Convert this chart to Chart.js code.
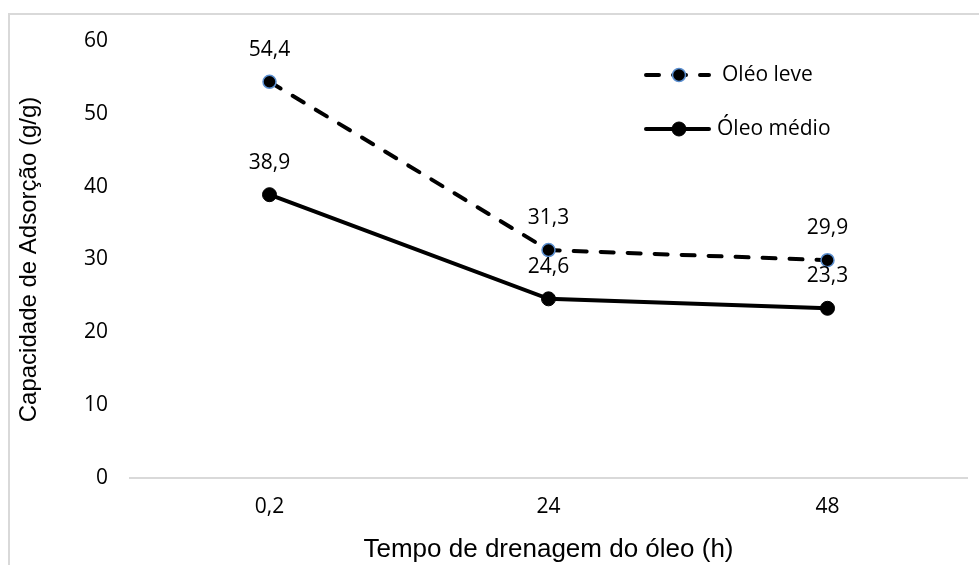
<!DOCTYPE html>
<html>
<head>
<meta charset="utf-8">
<script src="https://cdn.jsdelivr.net/npm/chart.js@4"></script>
<style>
  body { margin: 0; background: #fff; }
  #wrap { position: relative; width: 979px; height: 565px; overflow: hidden; }
  #frame { position: absolute; left: 8px; top: 13px; width: 1000px; height: 600px;
           border-left: 2px solid #d9d9d9; border-top: 2px solid #d9d9d9; }
  canvas { position: absolute; left: 0; top: 0; }
</style>
</head>
<body>
<div id="wrap">
  <div id="frame"></div>
  <canvas id="adsChart" width="979" height="565"></canvas>
</div>
<script>
const categories = ['0,2', '24', '48'];
const oleoLeve = [54.4, 31.3, 29.9];
const oleoMedio = [38.9, 24.6, 23.3];
const seriesNames = ['Oléo leve', 'Óleo médio'];
const yTitle = 'Capacidade de Adsorção (g/g)';
const xTitle = 'Tempo de drenagem do óleo (h)';

const fmt = v => String(v).replace('.', ',');

// value labels above each point
const valueLabels = {
  id: 'valueLabels',
  afterDatasetsDraw(chart) {
    const ctx = chart.ctx;
    ctx.save();
    ctx.font = '21px "Open Sans"';
    ctx.fillStyle = '#000';
    ctx.textAlign = 'center';
    ctx.textBaseline = 'middle';
    chart.data.datasets.forEach((ds, i) => {
      chart.getDatasetMeta(i).data.forEach((pt, j) => {
        ctx.fillText(fmt(ds.data[j]), pt.x, pt.y - 32);
      });
    });
    ctx.restore();
  }
};

// legend drawn inside the plot, top right
const innerLegend = {
  id: 'innerLegend',
  afterDraw(chart) {
    const ctx = chart.ctx;
    const rows = [75, 129];
    const textX = [722, 717];
    chart.data.datasets.forEach((ds, i) => {
      const y = rows[i];
      ctx.save();
      ctx.strokeStyle = ds.borderColor;
      ctx.lineWidth = ds.borderWidth;
      ctx.lineCap = ds.borderCapStyle || 'butt';
      ctx.setLineDash(ds.borderDash || []);
      ctx.beginPath();
      ctx.moveTo(646, y);
      ctx.lineTo(709, y);
      ctx.stroke();
      ctx.setLineDash([]);
      ctx.beginPath();
      ctx.arc(679, y, ds.pointRadius, 0, Math.PI * 2);
      ctx.fillStyle = ds.pointBackgroundColor;
      ctx.fill();
      ctx.lineWidth = ds.pointBorderWidth;
      ctx.strokeStyle = ds.pointBorderColor;
      ctx.stroke();
      ctx.font = '21px "Open Sans"';
      ctx.fillStyle = '#000';
      ctx.textAlign = 'left';
      ctx.textBaseline = 'middle';
      ctx.fillText(ds.label, textX[i], y);
      ctx.restore();
    });
  }
};

const ctx = document.getElementById('adsChart').getContext('2d');
new Chart(ctx, {
  type: 'line',
  data: {
    labels: categories,
    datasets: [
      {
        label: seriesNames[0],
        data: oleoLeve,
        borderColor: '#000',
        borderWidth: 4,
        borderDash: [13, 14],
        borderCapStyle: 'round',
        pointRadius: 6.5,
        pointBackgroundColor: '#000',
        pointBorderColor: '#5B8FD0',
        pointBorderWidth: 1.5,
        tension: 0,
        fill: false
      },
      {
        label: seriesNames[1],
        data: oleoMedio,
        borderColor: '#000',
        borderWidth: 4,
        borderCapStyle: 'round',
        pointRadius: 7,
        pointBackgroundColor: '#000',
        pointBorderColor: '#000',
        pointBorderWidth: 1,
        tension: 0,
        fill: false
      }
    ]
  },
  options: {
    responsive: false,
    animation: false,
    layout: { padding: { top: 41, right: 12, left: 0, bottom: 0 } },
    plugins: {
      legend: { display: false },
      tooltip: { enabled: false }
    },
    scales: {
      x: {
        offset: true,
        grid: { display: false, drawTicks: false },
        border: { display: true, color: '#d9d9d9', width: 2 },
        ticks: { color: '#000', font: { family: 'Open Sans', size: 21 }, padding: 16 },
        title: {
          display: true,
          text: xTitle,
          color: '#000',
          font: { family: 'Liberation Sans', size: 26 },
          padding: { top: 0, bottom: 0 }
        },
        afterFit(scale) { scale.height = 87; }
      },
      y: {
        min: 0,
        max: 60,
        grid: { display: false, drawTicks: false },
        border: { display: false },
        ticks: { stepSize: 10, color: '#000', font: { family: 'Open Sans', size: 21 }, padding: 22 },
        title: {
          display: true,
          text: yTitle,
          color: '#000',
          font: { family: 'Liberation Sans', size: 24 },
          padding: { top: 15, bottom: 0 }
        },
        afterFit(scale) { scale.width = 130; }
      }
    }
  },
  plugins: [valueLabels, innerLegend]
});
</script>
</body>
</html>
